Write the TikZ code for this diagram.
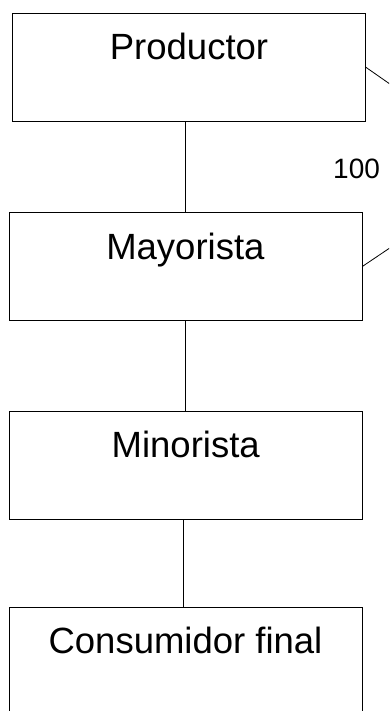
\documentclass[tikz,border=0pt]{standalone}
\usepackage{fontspec}
\setmainfont{Liberation Sans}

\begin{document}
\begin{tikzpicture}[x=1pt,y=1pt,yscale=-1,xscale=1,
	caja/.style={draw, rectangle, line width=0.8pt, inner sep=0pt, minimum width=353pt, text height=46.5pt, text depth=61.5pt, font=\fontsize{36.5}{44}\selectfont},
	linea/.style={line width=0.8pt}]
	\useasboundingbox (0,0) rectangle (389,711);
	\clip (0,0) rectangle (389,711);

	\node [caja] (prod) at (189,67.3) {Productor};
	\node [caja] (may) at (185.4,266.5) {Mayorista};
	\node [caja] (mino) at (185.7,465.2) {Minorista};
	\node [caja] (cons) at (185.5,661) {Consumidor final};

	\coordinate (ref1) at (392,85.5);
	\coordinate (ref2) at (392,246.5);

	\draw [linea] (may.north |- prod.south) -- (may.north);
	\draw [linea] (may.south) -- (may.south |- mino.north);
	\draw [linea] ([xshift=-2.2pt]cons.north |- mino.south) -- ([xshift=-2.2pt]cons.north);
	\draw [linea] (prod.east) -- (ref1);
	\draw [linea] (may.east) -- (ref2);

	\draw (333,178.3) node [anchor=base west][inner sep=0pt] (num) {\fontsize{28}{34}\selectfont 100};
\end{tikzpicture}
\end{document}
